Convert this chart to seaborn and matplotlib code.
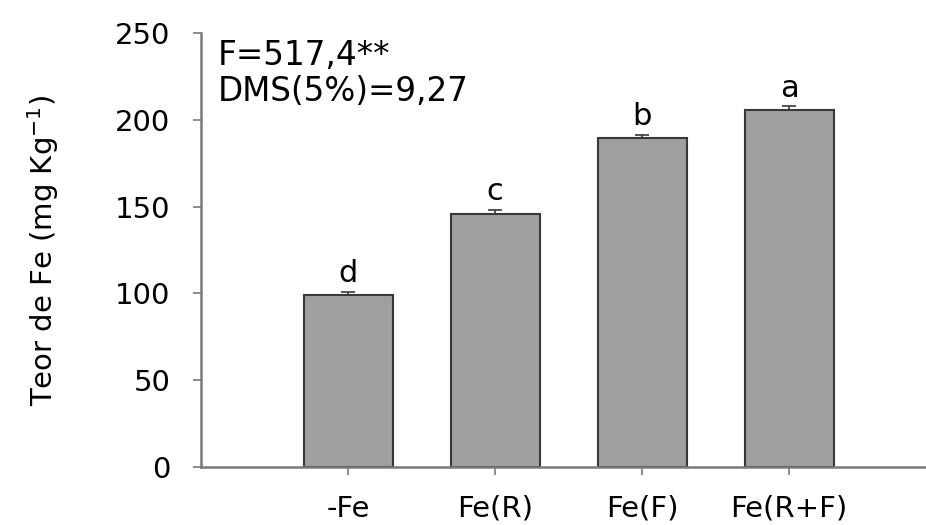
import matplotlib
matplotlib.use('Agg')
import matplotlib.pyplot as plt
import numpy as np
import seaborn as sns

# Teor de Fe por tratamento
tratamentos = ['-Fe', 'Fe(R)', 'Fe(F)', 'Fe(R+F)']
teor_fe = [99.2, 146.0, 189.6, 205.5]
erro = [1.6, 2.2, 1.9, 2.2]
letras = ['d', 'c', 'b', 'a']
yticks = [0, 50, 100, 150, 200, 250]

sns.set_style('white')
plt.rcParams['font.family'] = ['DejaVu Sans']
plt.rcParams['text.color'] = 'black'
plt.rcParams['xtick.color'] = 'black'
plt.rcParams['ytick.color'] = 'black'
plt.rcParams['axes.labelcolor'] = 'black'

fig = plt.figure(figsize=(9.26, 5.25), dpi=100)
ax = fig.add_axes([201 / 926, 58 / 525, 725 / 926, 434 / 525])

sns.barplot(x=tratamentos, y=teor_fe, color='#a0a0a0', saturation=1,
            edgecolor='#383838', linewidth=1.5, width=0.605,
            errorbar=None, ax=ax)

pos = np.arange(len(tratamentos))
ax.errorbar(pos, teor_fe, yerr=[np.zeros(len(erro)), erro], fmt='none',
            ecolor='#383838', elinewidth=1.2, capsize=5, capthick=1.2)

for x, v, e, l in zip(pos, teor_fe, erro, letras):
    ax.text(x, v + e + 5.5, l, ha='center', va='baseline', fontsize=22)

ax.text(0.023, 231.5, 'F=517,4**', transform=ax.get_yaxis_transform(),
        fontsize=23.5, va='baseline', ha='left')
ax.text(0.023, 210.8, 'DMS(5%)=9,27', transform=ax.get_yaxis_transform(),
        fontsize=23.5, va='baseline', ha='left')

ax.set_xlim(-1, 3.93)
ax.set_ylim(0, 250)
ax.set_yticks(yticks)
ax.set_yticklabels([str(t) for t in yticks])

for s in ['top', 'right']:
    ax.spines[s].set_visible(False)
for s in ['left', 'bottom']:
    ax.spines[s].set_color('#7a7a7a')
    ax.spines[s].set_linewidth(1.8)

ax.tick_params(axis='y', direction='out', length=6, width=1.2, color='#7a7a7a',
               labelsize=21, pad=16, left=True, labelcolor='black')
ax.tick_params(axis='x', direction='out', length=6, width=1.2, color='#7a7a7a',
               labelsize=21, pad=14, bottom=True, labelcolor='black')

ax.set_xlabel('')
ax.set_ylabel('Teor de Fe (mg Kg$^{-1}$)', fontsize=21)
ax.yaxis.set_label_coords(-0.193, 0.5)

fig.savefig('out.png', dpi=100)
